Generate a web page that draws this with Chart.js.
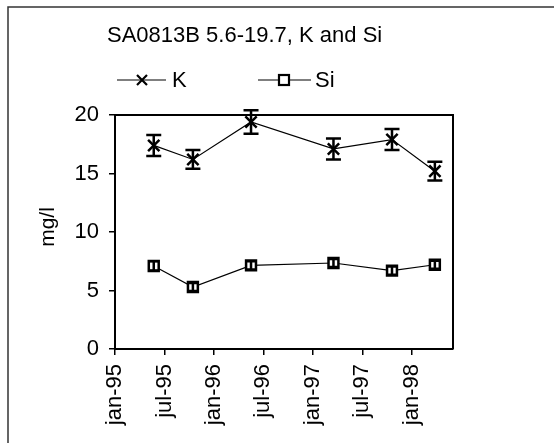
<!DOCTYPE html>
<html>
<head>
<meta charset="utf-8">
<script src="https://cdn.jsdelivr.net/npm/chart.js@4"></script>
<style>
  body { margin: 0; background: #fff; }
</style>
</head>
<body>
<canvas id="chart" width="554" height="443"></canvas>
<script>
// sampling dates, in months after jan-95
var sampleMonths = [4.7, 9.45, 16.5, 26.5, 33.6, 38.8];
var kValues = [17.4, 16.2, 19.4, 17.1, 17.9, 15.2];
var kErrors = [0.9, 0.8, 1.0, 0.9, 0.9, 0.8];
var siValues = [7.1, 5.3, 7.15, 7.35, 6.7, 7.2];
var siErrors = [0.4, 0.35, 0.35, 0.35, 0.35, 0.35];
var tickLabels = ["jan-95", "jul-95", "jan-96", "jul-96", "jan-97", "jul-97", "jan-98"];
var yTicks = [0, 5, 10, 15, 20];

var FONT = '"Liberation Sans", Arial, sans-serif';

function points(xs, ys) {
  return xs.map(function (x, i) { return { x: x, y: ys[i] }; });
}

// error bars drawn from the dataset values through the y scale
var errorBars = {
  id: "errorBars",
  afterDatasetsDraw: function (chart) {
    var ctx = chart.ctx;
    var yScale = chart.scales.y;
    chart.data.datasets.forEach(function (ds, di) {
      var meta = chart.getDatasetMeta(di);
      ctx.save();
      ctx.strokeStyle = "#000";
      ctx.lineWidth = 2.5;
      meta.data.forEach(function (pt, i) {
        var v = ds.data[i].y;
        var e = ds.errors[i];
        var top = yScale.getPixelForValue(v + e);
        var bot = yScale.getPixelForValue(v - e);
        var w = ds.capWidth / 2;
        ctx.beginPath();
        ctx.moveTo(pt.x, top);
        ctx.lineTo(pt.x, bot);
        ctx.moveTo(pt.x - w, top);
        ctx.lineTo(pt.x + w, top);
        ctx.moveTo(pt.x - w, bot);
        ctx.lineTo(pt.x + w, bot);
        ctx.stroke();
      });
      ctx.restore();
    });
  },
};

// frame, title, legend and y axis title
var decorations = {
  id: "decorations",
  afterDraw: function (chart) {
    var ctx = chart.ctx;
    var a = chart.chartArea;
    ctx.save();
    // outer frame (only left and top visible)
    ctx.strokeStyle = "#333";
    ctx.lineWidth = 1.5;
    ctx.beginPath();
    ctx.moveTo(8, 443);
    ctx.lineTo(8, 7);
    ctx.lineTo(554, 7);
    ctx.stroke();
    // plot box top and right
    ctx.strokeStyle = "#000";
    ctx.lineWidth = 2;
    ctx.beginPath();
    ctx.moveTo(a.left, a.top);
    ctx.lineTo(a.right, a.top);
    ctx.lineTo(a.right, a.bottom);
    ctx.stroke();

    ctx.fillStyle = "#000";
    ctx.textBaseline = "middle";
    ctx.font = "22px " + FONT;
    ctx.textAlign = "left";
    ctx.fillText("SA0813B 5.6-19.7, K and Si", 107, 36);

    // legend
    ctx.lineWidth = 1.2;
    ctx.beginPath();
    ctx.moveTo(117, 80);
    ctx.lineTo(166, 80);
    ctx.moveTo(258, 80);
    ctx.lineTo(311, 80);
    ctx.stroke();
    ctx.lineWidth = 2.2;
    ctx.beginPath();
    ctx.moveTo(137, 75);
    ctx.lineTo(147, 85);
    ctx.moveTo(147, 75);
    ctx.lineTo(137, 85);
    ctx.stroke();
    ctx.fillStyle = "#fff";
    ctx.fillRect(279, 75, 10, 10);
    ctx.strokeRect(279, 75, 10, 10);
    ctx.fillStyle = "#000";
    ctx.fillText("K", 172, 81);
    ctx.fillText("Si", 315, 81);

    // y axis title
    ctx.translate(48, 227);
    ctx.rotate(-Math.PI / 2);
    ctx.textAlign = "center";
    ctx.font = "21px " + FONT;
    ctx.fillText("mg/l", 0, 0);
    ctx.restore();
  },
};

new Chart(document.getElementById("chart"), {
  type: "scatter",
  data: {
    datasets: [
      {
        label: "K",
        data: points(sampleMonths, kValues),
        errors: kErrors,
        capWidth: 15,
        showLine: true,
        borderColor: "#000",
        borderWidth: 1.2,
        pointStyle: "crossRot",
        pointRadius: 8,
        pointBorderWidth: 2.5,
        pointBorderColor: "#000",
        pointBackgroundColor: "#000",
      },
      {
        label: "Si",
        data: points(sampleMonths, siValues),
        errors: siErrors,
        capWidth: 10,
        showLine: true,
        borderColor: "#000",
        borderWidth: 1.2,
        pointStyle: "rect",
        pointRadius: 7,
        pointBorderWidth: 2.5,
        pointBorderColor: "#000",
        pointBackgroundColor: "#fff",
      },
    ],
  },
  options: {
    responsive: false,
    animation: false,
    layout: { padding: { left: 0, top: 115, right: 101, bottom: 0 } },
    plugins: {
      legend: { display: false },
      tooltip: { enabled: false },
    },
    scales: {
      x: {
        type: "linear",
        min: 0,
        max: 41,
        afterFit: function (scale) { scale.height = 94; },
        afterBuildTicks: function (scale) {
          scale.ticks = tickLabels.map(function (t, i) { return { value: i * 6 }; });
        },
        ticks: {
          callback: function (value) { return tickLabels[value / 6]; },
          font: { family: FONT, size: 22 },
          color: "#000",
          minRotation: 90,
          maxRotation: 90,
          padding: 9,
        },
        grid: { drawOnChartArea: false, drawTicks: true, tickLength: 6, color: "#000", lineWidth: 1.5 },
        border: { display: true, color: "#000", width: 2 },
      },
      y: {
        min: 0,
        max: 20,
        afterFit: function (scale) { scale.width = 115; },
        afterBuildTicks: function (scale) {
          scale.ticks = yTicks.map(function (v) { return { value: v }; });
        },
        ticks: {
          font: { family: FONT, size: 22 },
          color: "#000",
          padding: 10,
        },
        grid: { drawOnChartArea: false, drawTicks: true, tickLength: 6, color: "#000", lineWidth: 1.5 },
        border: { display: true, color: "#000", width: 2 },
      },
    },
  },
  plugins: [errorBars, decorations],
});
</script>
</body>
</html>
